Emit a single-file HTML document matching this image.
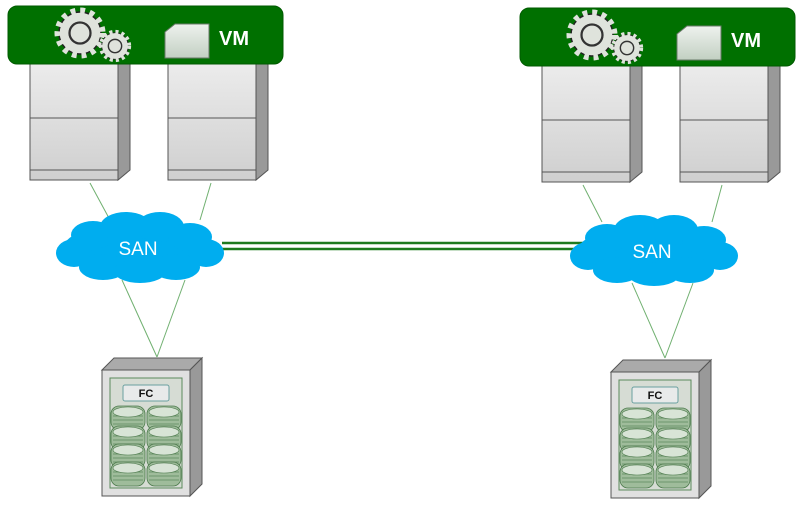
<!DOCTYPE html>
<html><head><style>body{margin:0;background:#fff}svg{display:block}</style></head><body>
<svg width="800" height="512" viewBox="0 0 800 512" xmlns="http://www.w3.org/2000/svg" font-family="Liberation Sans, sans-serif">
<defs>
<linearGradient id="srv" x1="0" y1="0" x2="0" y2="1"><stop offset="0" stop-color="#ececec"/><stop offset="1" stop-color="#cfcfcf"/></linearGradient>
<linearGradient id="doc" x1="0" y1="0" x2="0" y2="1"><stop offset="0" stop-color="#eef2ee"/><stop offset="1" stop-color="#c2d0c2"/></linearGradient>
<g id="server">
 <polygon points="88,0 100,0 100,108 88,118" fill="#999" stroke="#555" stroke-width="1"/>
 <rect x="0" y="0" width="88" height="118" fill="url(#srv)" stroke="#555" stroke-width="1"/>
 <line x1="0" y1="56" x2="88" y2="56" stroke="#555"/>
 <line x1="0" y1="108" x2="88" y2="108" stroke="#555"/>
</g>
<g id="gear">
 <circle r="14" fill="#dfe3dc" stroke="#222" stroke-width="1"/>
 <circle r="14" fill="none" stroke="#dfe3dc" stroke-width="6" stroke-dasharray="3 3"/>
 <circle r="7" fill="none" stroke="#333" stroke-width="1.5"/>
</g>
<g id="disk">
 <rect x="0" y="0" width="34" height="24" rx="8" fill="#9fbc9b" stroke="#4d7a4d" stroke-width="0.8"/>
 <g stroke="#5d8a5d" stroke-width="0.7"><line x1="2" y1="10" x2="32" y2="10"/><line x1="2" y1="14" x2="32" y2="14"/><line x1="2" y1="18" x2="32" y2="18"/></g>
 <ellipse cx="17" cy="6" rx="15" ry="5" fill="#d8e4d6" stroke="#4d7a4d" stroke-width="0.6"/>
</g>
<g id="group">
 <use href="#server" x="22" y="56"/>
 <use href="#server" x="160" y="56"/>
 <rect x="0" y="0" width="275" height="58" rx="9" fill="#007000" stroke="#005a00"/>
 <g transform="translate(72,27) scale(1.5)"><use href="#gear"/></g>
 <g transform="translate(107,40) scale(0.95)"><use href="#gear"/></g>
 <path d="M157,26 L167,18 L201,18 L201,52 L157,52 Z" fill="url(#doc)" stroke="#6a7a6a"/>
 <text x="211" y="39" font-size="20" font-weight="bold" fill="#fff">VM</text>
</g>
<g id="cloud">
 <g fill="#00adef">
  <ellipse cx="0" cy="0" rx="74" ry="24"/>
  <ellipse cx="-45" cy="-12" rx="22" ry="14"/><ellipse cx="-12" cy="-20" rx="26" ry="15"/><ellipse cx="22" cy="-20" rx="24" ry="15"/><ellipse cx="52" cy="-10" rx="22" ry="14"/>
  <ellipse cx="-64" cy="6" rx="18" ry="14"/><ellipse cx="68" cy="6" rx="18" ry="14"/><ellipse cx="-35" cy="20" rx="24" ry="13"/><ellipse cx="2" cy="24" rx="26" ry="12"/><ellipse cx="38" cy="20" rx="24" ry="13"/>
 </g>
 <text x="0" y="8" font-size="19" fill="#fff" text-anchor="middle">SAN</text>
</g>
<g id="store">
 <polygon points="0,12 12,0 100,0 88,12" fill="#aaa" stroke="#555"/>
 <polygon points="88,12 100,0 100,126 88,138" fill="#999" stroke="#555"/>
 <rect x="0" y="12" width="88" height="126" fill="#e0e0e0" stroke="#555"/>
 <rect x="8" y="20" width="72" height="110" fill="#d6dcd4" stroke="#5b8a5b"/>
 <rect x="21" y="27" width="46" height="16" rx="2" fill="#e8eaea" stroke="#6aa0a0"/>
 <text x="44" y="39" font-size="11" font-weight="bold" text-anchor="middle" fill="#111">FC</text>
 <use href="#disk" x="9" y="48"/><use href="#disk" x="45" y="48"/>
 <use href="#disk" x="9" y="68"/><use href="#disk" x="45" y="68"/>
 <use href="#disk" x="9" y="86"/><use href="#disk" x="45" y="86"/>
 <use href="#disk" x="9" y="104"/><use href="#disk" x="45" y="104"/>
</g>
</defs>
<g stroke="#70b070" stroke-width="1">
 <line x1="90" y1="183" x2="110" y2="220"/><line x1="211" y1="183" x2="200" y2="220"/>
 <line x1="122" y1="280" x2="157" y2="357"/><line x1="185" y1="280" x2="157" y2="357"/>
 <line x1="583" y1="185" x2="602" y2="222"/><line x1="722" y1="185" x2="712" y2="222"/>
 <line x1="632" y1="283" x2="665" y2="358"/><line x1="693" y1="283" x2="665" y2="358"/>
</g>
<g stroke="#1e7a1e" stroke-width="2.5">
 <line x1="222" y1="243" x2="590" y2="243"/><line x1="222" y1="249" x2="590" y2="249"/>
</g>
<use href="#group" x="8" y="6"/>
<use href="#group" x="520" y="8"/>
<use href="#cloud" x="138" y="247"/>
<use href="#cloud" x="652" y="250"/>
<use href="#store" x="102" y="358"/>
<use href="#store" x="611" y="360"/>
</svg>
</body></html>
